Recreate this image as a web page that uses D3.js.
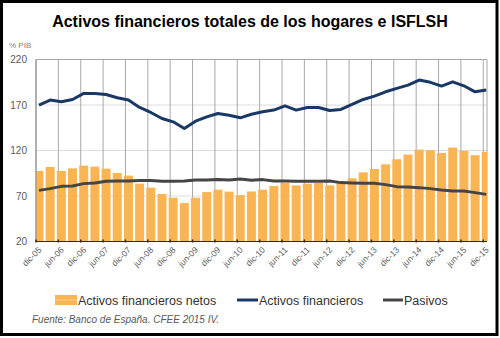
<!DOCTYPE html>
<html>
<head>
<meta charset="utf-8">
<script src="https://cdn.jsdelivr.net/npm/d3@7"></script>
<style>
html,body{margin:0;padding:0;background:#fff;}
svg{display:block;font-family:"Liberation Sans",Arial,sans-serif;}
</style>
</head>
<body>
<svg id="chart" width="500" height="338"></svg>
<script>
const quarters = ["dic-05","mar-06","jun-06","sep-06","dic-06","mar-07","jun-07","sep-07","dic-07","mar-08","jun-08","sep-08","dic-08","mar-09","jun-09","sep-09","dic-09","mar-10","jun-10","sep-10","dic-10","mar-11","jun-11","sep-11","dic-11","mar-12","jun-12","sep-12","dic-12","mar-13","jun-13","sep-13","dic-13","mar-14","jun-14","sep-14","dic-14","mar-15","jun-15","sep-15","dic-15"];
const netos = [97.5,101.9,97.5,100.4,103.4,102.3,100,95.3,92.4,83.6,79.2,72.2,68.1,62.2,68.1,74.3,77,74.8,71,75,77,81,84.3,81.7,83.6,84.3,81.7,84.3,89.4,96,99.7,104.8,110.4,115.5,121,120.3,117.3,123.2,119.5,114.8,118.4];
const activos = [169.9,175.4,173.5,176.1,182.7,182.7,181.6,177.9,175.4,167.3,161.8,155.2,151.5,144.2,152.2,157,160.7,158.8,155.9,159.8,162.5,164.4,169.1,164.4,167.3,167.3,164,165.1,170.6,176.1,179.8,184.5,188.3,191.9,197.4,194.9,190.8,195.5,191.1,184.5,186.4];
const pasivos = [76.2,78.1,80.6,80.9,83.6,84.3,86.1,86.4,86.4,86.9,86.9,86.1,86.1,86.4,87.5,87.5,88,87.5,88.6,87.3,88,86.4,86.4,86.1,86.1,86.1,86.4,84.7,84.3,83.9,83.9,82.5,80.3,79.8,79.2,78.1,76.5,75.4,75.4,73.7,71.8];
const xTickLabels = ["dic-05","jun-06","dic-06","jun-07","dic-07","jun-08","dic-08","jun-09","dic-09","jun-10","dic-10","jun-11","dic-11","jun-12","dic-12","jun-13","dic-13","jun-14","dic-14","jun-15","dic-15"];
const yTicks = [20,70,120,170,220];
const seriesNames = ["Activos financieros netos","Activos financieros","Pasivos"];

const colBar = "#f9b553", colNavy = "#1a3866", colGray = "#454545";
const svg = d3.select("#chart");
const L = 36, R = 487, T = 59.5, B = 241.5;

// months since 1 dec 2005; quarterly points at quarter end
const x = d3.scaleLinear().domain([0, 121]).range([L, R]);
const pos = i => x(3 * i + 0.8);
const y = d3.scaleLinear().domain([20, 220]).range([B, T]);

// outer frame
svg.append("rect").attr("x",1.5).attr("y",1.5).attr("width",495.5).attr("height",333)
  .attr("fill","#fff").attr("stroke","#000").attr("stroke-width",3);

// title
svg.append("text").attr("x",250).attr("y",27).attr("text-anchor","middle")
  .attr("font-size",16).attr("font-weight","bold").attr("fill","#000")
  .text("Activos financieros totales de los hogares e ISFLSH");
svg.append("text").attr("x",9).attr("y",48).attr("font-size",8).attr("fill","#7f7f7f").text("% PIB");

// horizontal gridlines
svg.append("g").selectAll("line").data(yTicks.slice(1)).join("line")
  .attr("x1",L).attr("x2",R).attr("y1",d=>y(d)).attr("y2",d=>y(d))
  .attr("stroke","#dcdcdc").attr("stroke-width",1);

// vertical gridlines
const tickMonths = xTickLabels.map((d,k)=>6*k);
svg.append("g").selectAll("line").data(tickMonths).join("line")
  .attr("x1",d=>x(d)).attr("x2",d=>x(d)).attr("y1",T).attr("y2",B)
  .attr("stroke","#a8a8a8").attr("stroke-width",1);

// right and top borders of plot
svg.append("line").attr("x1",R).attr("x2",R).attr("y1",T).attr("y2",B).attr("stroke","#a8a8a8");
svg.append("line").attr("x1",L).attr("x2",R).attr("y1",T).attr("y2",T).attr("stroke","#a8a8a8");

// clip
svg.append("clipPath").attr("id","clip").append("rect").attr("x",L).attr("y",T-5).attr("width",R-L).attr("height",B-T+5);

const barW = 9;
svg.append("g").attr("clip-path","url(#clip)").selectAll("rect").data(netos).join("rect")
  .attr("x",(d,i)=>pos(i)-barW/2).attr("width",barW)
  .attr("y",d=>y(d)).attr("height",d=>B-y(d)).attr("fill",colBar);

const line = d3.line().x((d,i)=>pos(i)).y(d=>y(d));
svg.append("path").datum(pasivos).attr("d",line).attr("fill","none")
  .attr("stroke",colGray).attr("stroke-width",3).attr("stroke-linejoin","round");
svg.append("path").datum(activos).attr("d",line).attr("fill","none")
  .attr("stroke",colNavy).attr("stroke-width",3).attr("stroke-linejoin","round");

// left axis line
svg.append("line").attr("x1",L).attr("x2",L).attr("y1",T).attr("y2",B).attr("stroke","#8c8c8c");
// bottom axis
svg.append("line").attr("x1",L).attr("x2",R).attr("y1",B).attr("y2",B).attr("stroke","#3a2a10").attr("stroke-width",1.2);
svg.append("g").selectAll("line").data(tickMonths).join("line")
  .attr("x1",d=>x(d)).attr("x2",d=>x(d)).attr("y1",B-2).attr("y2",B+1)
  .attr("stroke","#3a2a10").attr("stroke-width",1.5);

// y labels
svg.append("g").selectAll("text").data(yTicks).join("text")
  .attr("x",27).attr("y",d=>y(d)+3.5).attr("text-anchor","end")
  .attr("font-size",10).attr("fill","#595959").text(d=>d);

// x labels
svg.append("g").selectAll("text").data(xTickLabels).join("text")
  .attr("transform",(d,k)=>`translate(${x(tickMonths[k])+6},${B+9}) rotate(-45)`)
  .attr("text-anchor","end").attr("font-size",8.5).attr("fill","#595959").text(d=>d);

// legend
const lg = svg.append("g");
lg.append("rect").attr("x",55).attr("y",295).attr("width",22).attr("height",10).attr("fill",colBar);
lg.append("line").attr("x1",55).attr("x2",77).attr("y1",300).attr("y2",300).attr("stroke","#fcd08a").attr("stroke-width",1);
lg.append("text").attr("x",78).attr("y",304.5).attr("font-size",12.5).attr("fill","#333").text(seriesNames[0]);
lg.append("line").attr("x1",237).attr("x2",258).attr("y1",300).attr("y2",300).attr("stroke",colNavy).attr("stroke-width",3);
lg.append("text").attr("x",259).attr("y",304.5).attr("font-size",12.5).attr("fill","#333").text(seriesNames[1]);
lg.append("line").attr("x1",383).attr("x2",403).attr("y1",300).attr("y2",300).attr("stroke",colGray).attr("stroke-width",3);
lg.append("text").attr("x",404).attr("y",304.5).attr("font-size",12.5).attr("fill","#333").text(seriesNames[2]);

// source
svg.append("text").attr("x",32).attr("y",323).attr("font-size",10).attr("font-style","italic")
  .attr("fill","#595959").text("Fuente: Banco de España. CFEE 2015 IV.");
</script>
</body>
</html>
